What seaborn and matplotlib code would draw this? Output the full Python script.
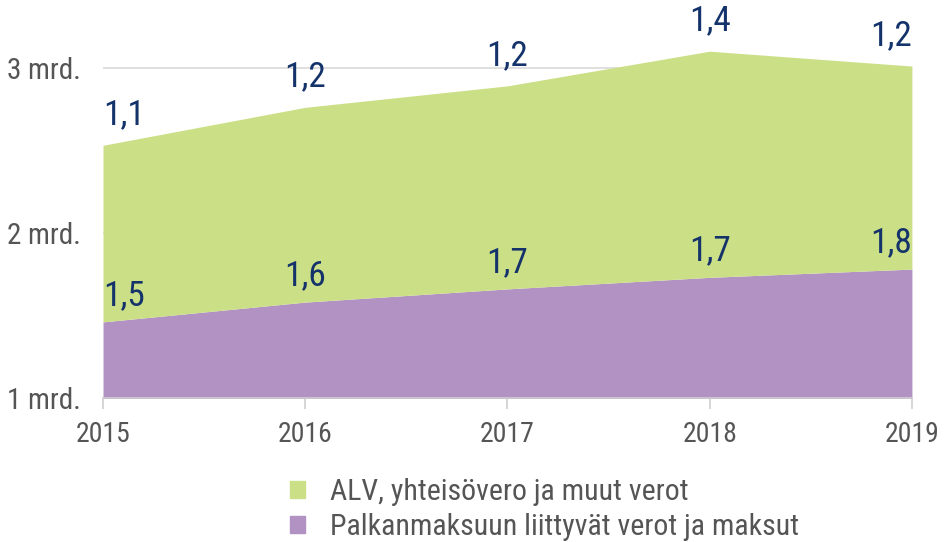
import matplotlib
matplotlib.use("Agg")
import matplotlib.pyplot as plt
import matplotlib.patches as mpatches
import seaborn as sns

# Data (billions of euros)
years = [2015, 2016, 2017, 2018, 2019]
palkka = [1.46, 1.58, 1.66, 1.73, 1.78]   # Palkanmaksuun liittyvät verot ja maksut
alv = [1.07, 1.18, 1.23, 1.37, 1.23]      # ALV, yhteisövero ja muut verot
y_ticks = [1, 2, 3]
y_tick_labels = ["1 mrd.", "2 mrd.", "3 mrd."]
series_names = ["ALV, yhteisövero ja muut verot", "Palkanmaksuun liittyvät verot ja maksut"]

green = "#CBDF86"
purple = "#B192C2"
label_blue = "#15336B"
text_grey = "#555555"

sns.set_style("white")
plt.rcParams["font.family"] = ["Roboto Condensed", "Liberation Sans Narrow", "Roboto", "DejaVu Sans"]

fig = plt.figure(figsize=(9.45, 5.42), dpi=100)
ax = fig.add_axes([0.109, 0.266, 0.856, 0.67])

ax.yaxis.grid(True, color="#D9D9D9", linewidth=1.2)
ax.set_axisbelow(True)
ax.stackplot(years, palkka, alv, colors=[purple, green], linewidth=0, zorder=2)

ax.set_xlim(years[0], years[-1])
ax.set_ylim(1, 3.2)
ax.set_yticks(y_ticks)
ax.set_yticklabels(y_tick_labels)
ax.set_xticks(years)
ax.set_xticklabels([str(y) for y in years])
ax.tick_params(axis="y", length=0, labelsize=21, labelcolor=text_grey, pad=16)
ax.tick_params(axis="x", length=8, width=1.2, color="#D0D0D0", direction="out",
               labelsize=20, labelcolor=text_grey, pad=9, bottom=True)

sns.despine(ax=ax, left=True, top=True, right=True)
ax.spines["bottom"].set_color("#D0D0D0")
ax.spines["bottom"].set_linewidth(1.2)

# Value labels above each layer
for i, yr in enumerate(years):
    if i == 0:
        ha = "left"
    elif i == len(years) - 1:
        ha = "right"
    else:
        ha = "center"
    top_p = palkka[i]
    top_a = palkka[i] + alv[i]
    ax.annotate(f"{palkka[i]:.1f}".replace(".", ","), (yr, top_p), xytext=(0, 7),
                textcoords="offset points", ha=ha, va="bottom", fontsize=25.5,
                color=label_blue, zorder=5, annotation_clip=False)
    ax.annotate(f"{alv[i]:.1f}".replace(".", ","), (yr, top_a), xytext=(0, 10),
                textcoords="offset points", ha=ha, va="bottom", fontsize=25.5,
                color=label_blue, zorder=5, annotation_clip=False)

handles = [mpatches.Patch(color=green), mpatches.Patch(color=purple)]
fig.legend(handles, series_names, loc="center left", bbox_to_anchor=(0.278, 0.06),
           frameon=False, fontsize=21.5, handlelength=0.5, handleheight=0.5,
           handletextpad=0.85, labelspacing=0.25, labelcolor=text_grey)

fig.savefig("out.png", dpi=100)
